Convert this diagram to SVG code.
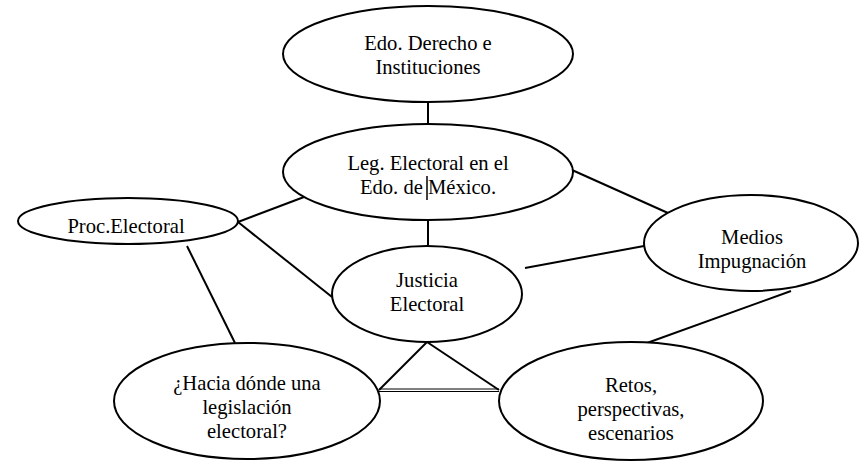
<svg xmlns="http://www.w3.org/2000/svg" width="859" height="461" viewBox="0 0 859 461">
<style>
.n{fill:#fff;stroke:#000;stroke-width:2}
.t{font-family:'Liberation Serif','DejaVu Serif',serif;font-size:20.6px;fill:#000;text-anchor:middle}
.c line{stroke:#000;stroke-width:2}
</style>
<rect width="859" height="461" fill="#fff"/>
<g class="c" id="connectors">
<line x1="428" y1="102" x2="428" y2="124"/>
<line x1="428" y1="220" x2="428" y2="245"/>
<line x1="238" y1="222" x2="304" y2="197"/>
<line x1="238" y1="222" x2="332" y2="297"/>
<line x1="187" y1="246" x2="235" y2="343"/>
<line x1="572" y1="170" x2="668" y2="213"/>
<line x1="525" y1="268" x2="644" y2="246"/>
<line x1="791" y1="291" x2="647" y2="343"/>
<line x1="427" y1="342" x2="379" y2="390"/>
<line x1="427" y1="342" x2="499" y2="390"/>
<line x1="379" y1="389" x2="499" y2="389" style="stroke-width:1.2"/>
<line x1="379" y1="391.5" x2="499" y2="391.5" style="stroke-width:1.2"/>
</g>
<g id="edo-derecho">
<ellipse class="n" cx="428" cy="54" rx="145" ry="48"/>
<text class="t" x="428" y="50">Edo. Derecho e</text>
<text class="t" x="428" y="74">Instituciones</text>
</g>
<g id="leg-electoral">
<ellipse class="n" cx="428" cy="172" rx="145" ry="48"/>
<text class="t" x="428" y="170">Leg. Electoral en el</text>
<text class="t" x="428" y="194">Edo. de México.</text>
<line x1="427" y1="176" x2="427" y2="200" stroke="#000" stroke-width="1.5"/>
</g>
<g id="proc-electoral">
<ellipse class="n" cx="128" cy="221" rx="110" ry="23"/>
<text class="t" x="126" y="233">Proc.Electoral</text>
</g>
<g id="justicia">
<ellipse class="n" cx="427" cy="294" rx="95" ry="48"/>
<text class="t" x="427" y="287">Justicia</text>
<text class="t" x="427" y="311">Electoral</text>
</g>
<g id="medios">
<ellipse class="n" cx="751" cy="243" rx="107" ry="48"/>
<text class="t" x="752" y="244">Medios</text>
<text class="t" x="752" y="268">Impugnación</text>
</g>
<g id="hacia">
<ellipse class="n" cx="247" cy="401" rx="133" ry="58"/>
<text class="t" x="247" y="390">¿Hacia dónde una</text>
<text class="t" x="247" y="414">legislación</text>
<text class="t" x="247" y="438">electoral?</text>
</g>
<g id="retos">
<ellipse class="n" cx="631" cy="401" rx="132" ry="59"/>
<text class="t" x="631" y="392">Retos,</text>
<text class="t" x="631" y="416">perspectivas,</text>
<text class="t" x="631" y="440">escenarios</text>
</g>
</svg>
